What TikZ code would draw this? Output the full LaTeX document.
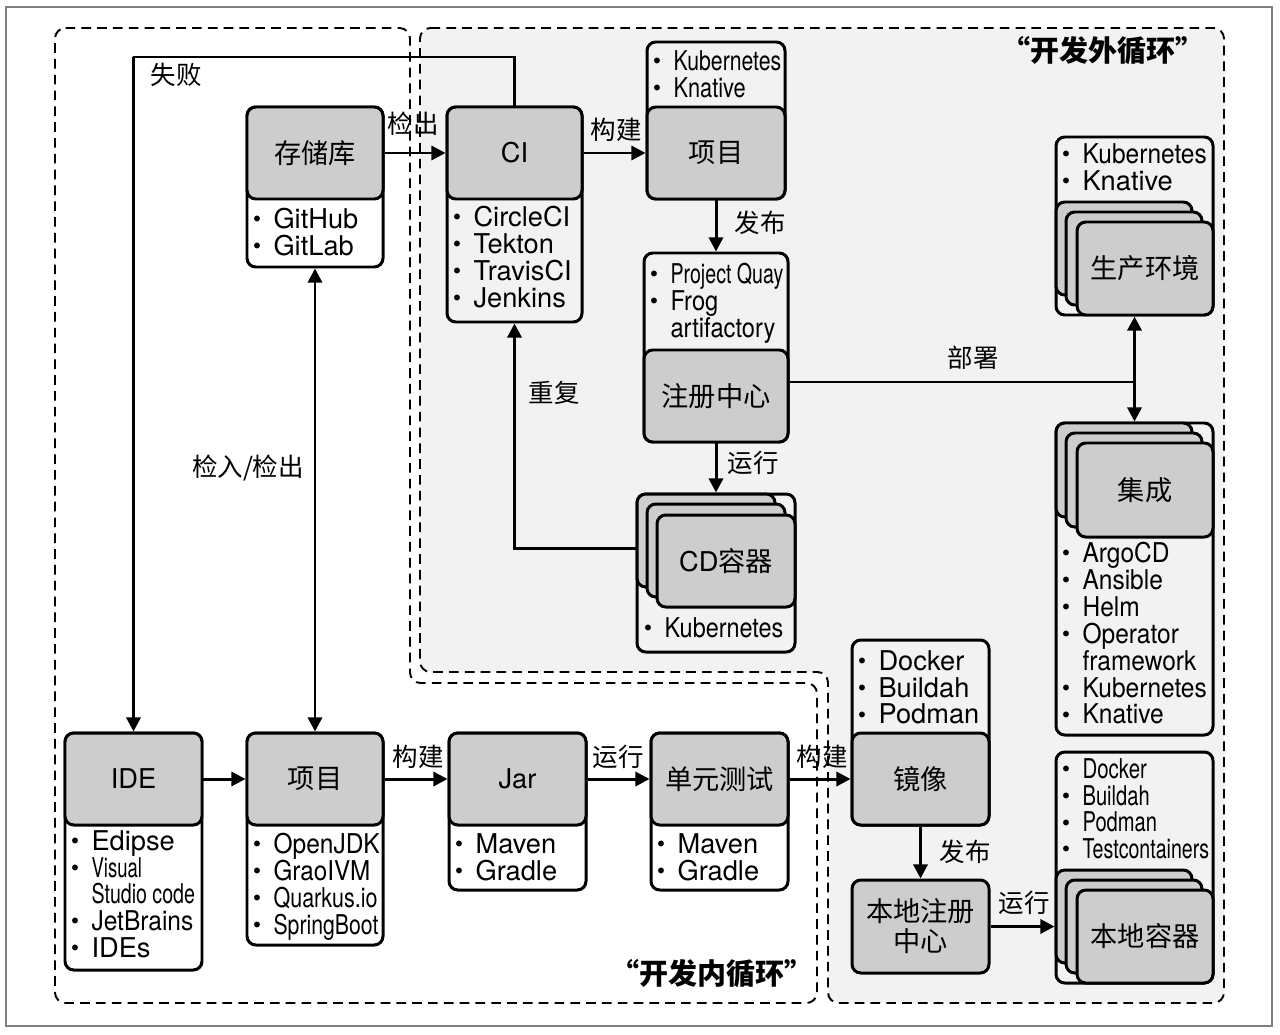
\documentclass[tikz,border=0pt]{standalone}
\usepackage{fontspec}
\usepackage{graphicx}
\setmainfont{TeX Gyre Heros}
\newfontfamily\cjk{Noto Sans CJK SC}
\usetikzlibrary{arrows.meta,fit}
\definecolor{headgray}{HTML}{CDCDCD}
\definecolor{outerbg}{HTML}{F2F2F2}
\newcommand{\itm}{\makebox[11.5pt][l]{\raisebox{3.4pt}{\fontsize{8}{8}\selectfont$\bullet$}}}
\newcommand{\nxt}{\hspace*{11.5pt}}
\newcommand{\sq}[2]{\scalebox{#1}[1]{#2}}
\tikzset{
  card/.style={draw, line width=1.7pt, rounded corners=5pt, inner sep=0pt},
  head/.style={card, fill=headgray},
  headtext/.style={inner sep=0pt, align=center, font=\cjk\fontsize{15.5}{17}\selectfont},
  items/.style={anchor=north west, inner sep=0pt, align=left, font=\fontsize{15.5}{15.3}\selectfont},
  lbl/.style={inner sep=0pt, font=\cjk\fontsize{14.5}{16}\selectfont},
  looptitle/.style={inner sep=0pt, font=\cjk\bfseries\fontsize{16.5}{18}\selectfont},
  looparea/.style={line width=1.1pt, dash pattern=on 5.5pt off 3.5pt, rounded corners=6pt},
  flow/.style={line width=1.7pt, -{Triangle[length=8pt,width=8pt]}},
  twoway/.style={line width=1.7pt, {Triangle[length=8pt,width=8pt]}-{Triangle[length=8pt,width=8pt]}},
}
\begin{document}
\begin{tikzpicture}[x=0.02cm, y=-0.02cm]
  \useasboundingbox (0,0) rectangle (1280,1034);
  \draw[gray, line width=0.6pt] (6,7) rectangle (1272,1026);

  % inner and outer loop
  \draw[looparea] (55,28) -- (410,28) -- (410,683) -- (817,683) -- (817,1003) -- (55,1003) -- cycle;
  \draw[looparea, fill=outerbg] (420,28) -- (1224,28) -- (1224,1003) -- (828,1003) -- (828,672) -- (420,672) -- cycle;

  % repository
  \node[card, fit={(247,107) (383,267)}] (repolist) {};
  \node[head, fit={(247,107) (383,199)}, label={[headtext]center:存储库}] (repo) {};
  \node[items] (repoitems) at (253,208) {\itm GitHub\\\itm GitLab};

  % CI
  \node[card, fit={(447,107) (582,322)}] (cilist) {};
  \node[head, fit={(447,107) (582,199)}, label={[headtext]center:\normalfont CI}] (ci) {};
  \node[items] (ciitems) at (453,206) {\itm CircleCI\\\itm Tekton\\\itm TravisCI\\\itm Jenkins};

  % project (outer loop)
  \node[card, fit={(647,42) (785,199)}] (proj1list) {};
  \node[head, fit={(647,107) (785,199)}, label={[headtext]center:项目}] (proj1) {};
  \node[items] (proj1items) at (653,50) {\itm\sq{0.78}{Kubernetes}\\\itm\sq{0.8}{Knative}};

  % registry
  \node[card, fit={(644,253) (788,442)}] (reglist) {};
  \node[head, fit={(644,350) (788,442)}, label={[headtext]center:注册中心}] (reg) {};
  \node[items] (regitems) at (650,263) {\itm\sq{0.72}{Project Quay}\\\itm\sq{0.87}{Frog}\\\nxt\sq{0.87}{artifactory}};

  % CD containers
  \node[card, fit={(637,494) (795,652)}] (cdlist) {};
  \node[head, fit={(637,494) (775,587)}] (cdback) {};
  \node[head, fit={(647,504) (785,597)}] (cdmid) {};
  \node[head, fit={(657,515) (795,607)}, label={[headtext]center:{\normalfont CD}容器}] (cd) {};
  \node[items] (cditems) at (644,617) {\itm\sq{0.86}{Kubernetes}};

  % production
  \node[card, fit={(1056,137) (1213,315)}] (prodlist) {};
  \node[head, fit={(1056,202) (1192,295)}] (prodback) {};
  \node[head, fit={(1066,212) (1202,305)}] (prodmid) {};
  \node[head, fit={(1077,222) (1213,315)}, label={[headtext]center:生产环境}] (prod) {};
  \node[items] (proditems) at (1062,143) {\itm\sq{0.9}{Kubernetes}\\\itm Knative};

  % integration
  \node[card, fit={(1056,423) (1213,735)}] (integlist) {};
  \node[head, fit={(1056,423) (1192,517)}] (integback) {};
  \node[head, fit={(1066,433) (1202,527)}] (integmid) {};
  \node[head, fit={(1077,443) (1213,537)}, label={[headtext]center:集成}] (integ) {};
  \node[items] (integitems) at (1062,542) {\itm\sq{0.9}{ArgoCD}\\\itm\sq{0.9}{Ansible}\\\itm\sq{0.9}{Helm}\\\itm\sq{0.9}{Operator}\\\nxt\sq{0.9}{framework}\\\itm\sq{0.9}{Kubernetes}\\\itm\sq{0.9}{Knative}};

  % IDE
  \node[card, fit={(65,733) (202,970)}] (idelist) {};
  \node[head, fit={(65,733) (202,825)}, label={[headtext]center:\normalfont IDE}] (ide) {};
  \node[items] (ideitems) at (71,830) {\itm Edipse\\\itm\sq{0.68}{Visual}\\\nxt\sq{0.72}{Studio code}\\\itm\sq{0.9}{JetBrains}\\\itm IDEs};

  % project (inner loop)
  \node[card, fit={(247,733) (383,945)}] (proj2list) {};
  \node[head, fit={(247,733) (383,825)}, label={[headtext]center:项目}] (proj2) {};
  \node[items] (proj2items) at (253,833) {\itm\sq{0.9}{OpenJDK}\\\itm\sq{0.89}{GraoIVM}\\\itm\sq{0.79}{Quarkus.io}\\\itm\sq{0.78}{SpringBoot}};

  % jar
  \node[card, fit={(449,733) (586,890)}] (jarlist) {};
  \node[head, fit={(449,733) (586,825)}, label={[headtext]center:\normalfont Jar}] (jar) {};
  \node[items] (jaritems) at (455,833) {\itm Maven\\\itm Gradle};

  % unit test
  \node[card, fit={(651,733) (788,890)}] (testlist) {};
  \node[head, fit={(651,733) (788,825)}, label={[headtext]center:单元测试}] (test) {};
  \node[items] (testitems) at (657,833) {\itm Maven\\\itm Gradle};

  % image
  \node[card, fit={(852,640) (989,825)}] (imglist) {};
  \node[head, fit={(852,733) (989,825)}, label={[headtext]center:镜像}] (img) {};
  \node[items] (imgitems) at (858,650) {\itm Docker\\\itm Buildah\\\itm Podman};

  % local registry
  \node[head, fit={(852,880) (989,973)}, label={[headtext]center:本地注册\\中心}] (lreg) {};

  % local containers
  \node[card, fit={(1056,752) (1213,983)}] (lctrlist) {};
  \node[head, fit={(1056,870) (1192,963)}] (lctrback) {};
  \node[head, fit={(1066,880) (1202,973)}] (lctrmid) {};
  \node[head, fit={(1077,890) (1213,983)}, label={[headtext]center:本地容器}] (lctr) {};
  \node[items] (lctritems) at (1062,758) {\itm\sq{0.75}{Docker}\\\itm\sq{0.74}{Buildah}\\\itm\sq{0.74}{Podman}\\\itm\sq{0.72}{Testcontainers}};

  \coordinate (failtop) at (133,57);
  \coordinate (repeat) at (637,548);
  \coordinate (deploy) at (1134.5,382);

  \begin{scope}[flow]
    \draw (ci.north) |- (failtop) -| (ide.north);
    \draw (repo.east) -- (ci.west);
    \draw (ci.east) -- (proj1.west);
    \draw (proj1.south) -- (reglist.north);
    \draw (reg.south) -- (cdlist.north);
    \draw (repeat) -| (cilist.south);
    \draw[-] (reg.east |- deploy) -- (deploy);
    \draw (deploy) -- (prodlist.south);
    \draw (deploy) -- (integlist.north);
    \draw (ide.east) -- (proj2.west);
    \draw (proj2.east) -- (jar.west);
    \draw (jar.east) -- (test.west);
    \draw (test.east) -- (img.west);
    \draw (img.south) -- (lreg.north);
    \draw (lreg.east) -- (lreg.east -| lctrlist.west);
  \end{scope}
  \draw[twoway] (repolist.south) -- (proj2.north);

  % labels
  \node[lbl] (lfail) at (176,75) {失败};
  \node[lbl] (lcheckout) at (413,124) {检出};
  \node[lbl] (lbuild1) at (616,130) {构建};
  \node[lbl] (lpublish1) at (760,223) {发布};
  \node[lbl] (lrepeat) at (554,393) {重复};
  \node[lbl] (lrun1) at (753,463) {运行};
  \node[lbl] (ldeploy) at (973,358) {部署};
  \node[lbl] (lcheckin) at (248,468) {检入/检出};
  \node[lbl] (lbuild2) at (418,757) {构建};
  \node[lbl] (lrun2) at (618,757) {运行};
  \node[lbl] (lbuild3) at (822,757) {构建};
  \node[lbl] (lpublish2) at (965,852) {发布};
  \node[lbl] (lrun3) at (1024,903) {运行};

  \node[looptitle] (outertitle) at (1103,51) {“开发外循环”};
  \node[looptitle] (innertitle) at (712,974) {“开发内循环”};
\end{tikzpicture}
\end{document}
